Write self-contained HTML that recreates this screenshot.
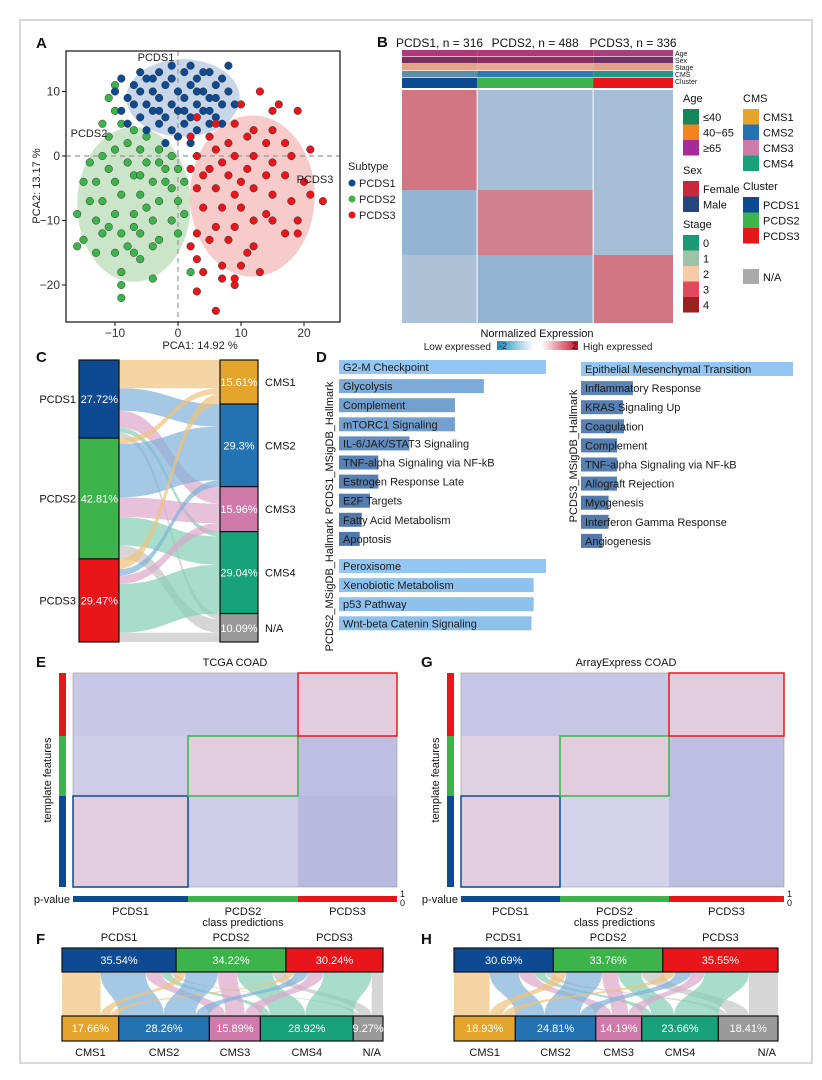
<!DOCTYPE html>
<html><head><meta charset="utf-8"><style>
html,body{margin:0;padding:0;background:#fff;}
svg{display:block;font-family:"Liberation Sans",sans-serif;}
</style></head><body>
<svg id="fig" width="822" height="1080" viewBox="0 0 822 1080" xmlns="http://www.w3.org/2000/svg">
<rect x="0" y="0" width="822" height="1080" fill="#fff"/>
<rect x="20" y="20" width="792" height="1043" fill="none" stroke="#d8d8d8" stroke-width="2"/>
<g font-weight="bold" font-size="15" fill="#111">
<text x="36" y="48">A</text>
<text x="377" y="47">B</text>
<text x="36" y="362">C</text>
<text x="316" y="362">D</text>
<text x="36" y="667">E</text>
<text x="36" y="944">F</text>
<text x="421" y="667">G</text>
<text x="421" y="944">H</text>
</g>
<g id="A"></g>
<g id="B"></g>
<g id="C"></g>
<g id="D"></g>
<g id="E"></g>
<g id="F"></g>
<g id="G"></g>
<g id="H"></g>
</svg>
<script>
// ===== DATA =====
const subtypes = ["PCDS1","PCDS2","PCDS3"];
const subtypeColors = ["#0d4a92","#3cb44b","#e8161b"];
const pcds1Points = [[-9,12],[-7,11],[-5,12],[-3,13],[-1,12],[1,13],[3,12],[5,13],[7,12],[8,14],[-8,9],[-6,10],[-4,10],[-2,11],[0,10],[2,11],[4,10],[6,11],[8,10],[9,8],[-9,7],[-7,8],[-5,8],[-3,9],[-1,8],[1,9],[3,8],[5,9],[7,8],[-6,6],[-4,7],[-2,6],[0,7],[2,6],[4,7],[6,6],[-5,4],[-3,5],[-1,4],[1,5],[3,4],[5,5],[-2,2],[0,3],[2,2],[-8,5],[7,5],[-4,12],[4,13],[-10,10],[6,9],[-1,14],[2,14],[-6,13],[3,10],[-3,7],[1,7],[5,7]];
const pcds2Points = [[-10,11],[-11,9],[-10,7],[-12,5],[-9,5],[-7,4],[-5,3],[-8,2],[-10,1],[-12,0],[-6,1],[-3,1],[-1,0],[-14,-1],[-11,-2],[-8,-1],[-5,-1],[-2,-2],[0,-2],[-15,-4],[-13,-4],[-10,-4],[-7,-3],[-4,-4],[-1,-5],[1,-4],[-16,-9],[-14,-7],[-12,-7],[-9,-6],[-6,-6],[-3,-7],[0,-7],[-13,-10],[-10,-9],[-7,-9],[-4,-10],[-1,-10],[1,-9],[-15,-13],[-12,-12],[-9,-12],[-6,-12],[-3,-13],[0,-12],[-16,-14],[-13,-15],[-10,-15],[-7,-15],[-4,-14],[-9,-18],[-6,-16],[-4,-19],[-9,-20],[-9,-22],[2,-18],[-11,-11],[-8,-14],[-5,-8],[-2,-4],[-7,-11],[-11,3],[-6,-3],[-3,-1]];
const pcds3Points = [[13,10],[10,8],[15,7],[16,8],[19,7],[3,6],[6,5],[9,5],[12,4],[15,4],[2,3],[5,3],[8,2],[11,3],[14,2],[17,2],[21,1],[3,0],[6,1],[9,0],[12,0],[15,-1],[18,0],[2,-2],[5,-2],[8,-3],[11,-2],[14,-3],[17,-3],[20,-4],[3,-5],[6,-5],[9,-6],[12,-5],[15,-6],[21,-6],[23,-7],[4,-8],[7,-8],[10,-8],[14,-9],[18,-7],[6,-11],[9,-11],[12,-10],[15,-10],[19,-10],[3,-12],[5,-13],[8,-13],[12,-14],[17,-12],[19,-12],[3,-16],[4,-18],[7,-17],[11,-15],[13,-18],[3,-21],[7,-19],[9,-19],[9,-20],[6,-24],[10,-17],[2,-14],[4,-3],[7,-1],[10,-4]];
const ellipseCenters = [[0.8,9],[-7,-7.5],[11.8,-6.2]];
const ellipseRadii = [[9,6],[9,12],[9.9,12.5]];
const pcaXTicks = [-10,0,10,20];
const pcaYTicks = [10,0,-10,-20];

const sampleCounts = [316,488,336];
const featureCounts = [100,65,68];
const exprBlocks = [[0.8,-0.4,-0.4],[-0.6,0.7,-0.4],[-0.3,-0.6,0.8]];

const cmsNames = ["CMS1","CMS2","CMS3","CMS4","N/A"];
const cmsColors = ["#e5a42b","#2372b2","#d07aab","#17a279","#999999"];
const cmsFlowColors = ["#f0c27a","#7fb2d8","#dba7c9","#84cfb5","#c4c4c4"];
const cPcdsPct = [27.72,42.81,29.47];
const cCmsPct = [15.61,29.3,15.96,29.04,10.09];
const cFlows = [[10,8,6,1.72,2],[2,19,7,10,4.81],[3.61,2.3,2.96,17.32,3.28]];

const dGroup1Terms = ["G2-M Checkpoint","Glycolysis","Complement","mTORC1 Signaling","IL-6/JAK/STAT3 Signaling","TNF-alpha Signaling via NF-kB","Estrogen Response Late","E2F Targets","Fatty Acid Metabolism","Apoptosis"];
const dGroup1Values = [1.0,0.70,0.56,0.56,0.34,0.19,0.19,0.15,0.11,0.10];
const dGroup2Terms = ["Peroxisome","Xenobiotic Metabolism","p53 Pathway","Wnt-beta Catenin Signaling"];
const dGroup2Values = [1.0,0.94,0.94,0.93];
const dGroup3Terms = ["Epithelial Mesenchymal Transition","Inflammatory Response","KRAS Signaling Up","Coagulation","Complement","TNF-alpha Signaling via NF-kB","Allograft Rejection","Myogenesis","Interferon Gamma Response","Angiogenesis"];
const dGroup3Values = [1.0,0.245,0.198,0.203,0.17,0.17,0.17,0.13,0.13,0.10];

const eBlocks = [[-0.3,-0.3,0.5],[-0.2,0.5,-0.5],[0.5,-0.2,-0.6]];
const gBlocks = [[-0.35,-0.3,0.5],[0.3,0.5,-0.5],[0.5,-0.1,-0.5]];
const eClassCounts = [115,110,99];
const eFeatureCounts = [63,60,91];
const gClassCounts = [99,109,115];

const fPcdsPct = [35.54,34.22,30.24];
const fCmsPct = [17.66,28.26,15.89,28.92,9.27];
const fFlows = [[12,14,5,3,1.54],[3,10,6,11,4.22],[2.66,4.26,4.89,14.92,3.51]];
const hPcdsPct = [30.69,33.76,35.55];
const hCmsPct = [18.93,24.81,14.19,23.66,18.41];
const hFlows = [[11,9,5,3,2.69],[4,11,5,7,6.76],[3.93,4.81,4.19,13.66,8.96]];

// ===== HELPERS =====
const NS="http://www.w3.org/2000/svg";
function mk(parent, tag, attrs, txt){
  const el=document.createElementNS(NS,tag);
  for(const k in attrs) el.setAttribute(k,attrs[k]);
  if(txt!==undefined) el.textContent=txt;
  parent.appendChild(el); return el;
}
function hex(c){return [parseInt(c.slice(1,3),16),parseInt(c.slice(3,5),16),parseInt(c.slice(5,7),16)];}
function mix(a,b,t){const A=hex(a),B=hex(b);return "rgb("+A.map((v,i)=>Math.round(v+(B[i]-v)*t)).join(",")+")";}
function diverge(v,neg,mid,pos){return v>=0?mix(mid,pos,Math.min(1,v)):mix(mid,neg,Math.min(1,-v));}
function $(id){return document.getElementById(id);}

// ===== PANEL A =====
(function(){
  const g=$("A");
  const X=v=>178+v*6.3, Y=v=>156-v*6.45;
  const ellFill=["#b4c8e2","#b9dcb6","#f5b9b9"];
  ellipseCenters.forEach((c,i)=>{
    const e=mk(g,"ellipse",{cx:X(c[0]),cy:Y(c[1]),rx:ellipseRadii[i][0]*6.3,ry:ellipseRadii[i][1]*6.45,fill:ellFill[i],opacity:0.75});
    
    
  });
  const l1=mk(g,"line",{x1:66,x2:340,y1:Y(0),y2:Y(0),stroke:"#999","stroke-dasharray":"5,4","stroke-width":1.2});
  
  
  const l2=mk(g,"line",{x1:X(0),x2:X(0),y1:51,y2:322,stroke:"#999","stroke-dasharray":"5,4","stroke-width":1.2});
  
  
  [pcds2Points,pcds1Points,pcds3Points].forEach((pts,k)=>{
    const idx=[1,0,2][k];
    pts.forEach(p=>{
      const c=mk(g,"circle",{cx:X(p[0]),cy:Y(p[1]),r:3.8,fill:subtypeColors[idx],stroke:"#333","stroke-width":0.5});
      
      
    });
  });
  const box=mk(g,"rect",{x:66,y:51,width:274,height:271,fill:"none",stroke:"#111","stroke-width":1.2});
  
  
  pcaXTicks.forEach(t=>{
    const tk=mk(g,"line",{x1:X(t),x2:X(t),y1:322,y2:326,stroke:"#111"});
    
    
    const tl=mk(g,"text",{x:X(t),y:337,"font-size":12,"text-anchor":"middle",fill:"#333"},String(t).replace("-","−"));
    
    
  });
  pcaYTicks.forEach(t=>{
    const tk=mk(g,"line",{x1:62,x2:66,y1:Y(t),y2:Y(t),stroke:"#111"});
    
    
    const tl=mk(g,"text",{x:60,y:Y(t)+4,"font-size":12,"text-anchor":"end",fill:"#333"},String(t).replace("-","−"));
    
    
  });
  const xt=mk(g,"text",{x:200,y:349,"font-size":11,"text-anchor":"middle",fill:"#222"},"PCA1: 14.92 %");
  
  
  const yt=mk(g,"text",{x:0,y:0,"font-size":11,"text-anchor":"middle",fill:"#222",transform:"translate(40,186) rotate(-90)"},"PCA2: 13.17 %");
  
  
  [["PCDS1",156,61],["PCDS2",89,137],["PCDS3",315,183]].forEach(a=>{
    const t=mk(g,"text",{x:a[1],y:a[2],"font-size":11,"text-anchor":"middle",fill:"#222"},a[0]);
    
    
  });
  const lt=mk(g,"text",{x:348,y:170,"font-size":11,fill:"#222"},"Subtype");
  
  
  subtypes.forEach((s,i)=>{
    const c=mk(g,"circle",{cx:352,cy:183+i*16,r:3.5,fill:subtypeColors[i]});
    
    
    const t=mk(g,"text",{x:359,y:187+i*16,"font-size":11,fill:"#222"},s);
    
    
  });
})();

// ===== PANEL B =====
(function(){
  const g=$("B");
  const x0=402,x1=673,y0=90,y1=323;
  const tot=sampleCounts.reduce((a,b)=>a+b,0), ftot=featureCounts.reduce((a,b)=>a+b,0);
  const colX=[x0]; sampleCounts.forEach(n=>colX.push(colX[colX.length-1]+n/tot*(x1-x0)));
  const rowY=[y0]; featureCounts.forEach(n=>rowY.push(rowY[rowY.length-1]+n/ftot*(y1-y0)));
  exprBlocks.forEach((row,r)=>row.forEach((v,c)=>{
    const rc=mk(g,"rect",{x:colX[c],y:rowY[r],width:colX[c+1]-colX[c],height:rowY[r+1]-rowY[r],fill:diverge(v,"#6fa4cc","#c9cfdb","#d5606e")});
    
    
  }));
  [1,2].forEach(i=>{
    const l=mk(g,"line",{x1:colX[i],x2:colX[i],y1:50,y2:y1,stroke:"#fff","stroke-width":1});
    
    
  });
  const annRows=["Age","Sex","Stage","CMS","Cluster"];
  const annColors=[["#b0387a","#b0387a","#a8407c"],["#7a2f5e","#8a3060","#6e3366"],["#e4a48a","#e6a890","#e3a088"],["#5f8fa8","#2f7ab4","#1f9a86"],subtypeColors];
  const annY=[50,57,64,71,78,89];
  annRows.forEach((n,r)=>{
    for(let c=0;c<3;c++){
      const rc=mk(g,"rect",{x:colX[c],y:annY[r],width:colX[c+1]-colX[c],height:annY[r+1]-annY[r]-(r<4?0.6:1),fill:annColors[r][c]});
      
      
    }
    const t=mk(g,"text",{x:675,y:annY[r]+6,"font-size":7,fill:"#222"},n);
    
    
  });
  subtypes.forEach((s,i)=>{
    const t=mk(g,"text",{x:(colX[i]+colX[i+1])/2,y:47,"font-size":12,"text-anchor":"middle",fill:"#111"},s+", n = "+sampleCounts[i]);
    
    
  });
  const legends=[
    ["Age",683,102,["≤40","40−65","≥65"],["#14875a","#f58220","#a52a9a"]],
    ["Sex",683,174,["Female","Male"],["#c8283c","#26467e"]],
    ["Stage",683,228,["0","1","2","3","4"],["#1a9a74","#9dc3a8","#f8cba8","#e04a5a","#9a2020"]],
    ["CMS",743,102,cmsNames.slice(0,4),cmsColors.slice(0,4)],
    ["Cluster",743,190,subtypes,subtypeColors]
  ];
  legends.forEach(L=>{
    const t=mk(g,"text",{x:L[1],y:L[2],"font-size":11,fill:"#111"},L[0]);
    
    
    L[3].forEach((lab,i)=>{
      const r=mk(g,"rect",{x:L[1],y:L[2]+7+i*15.5,width:16,height:15.5,fill:L[4][i]});
      
      
      const tt=mk(g,"text",{x:L[1]+20,y:L[2]+19+i*15.5,"font-size":11,fill:"#111"},lab);
      
      
    });
  });
  const na=mk(g,"rect",{x:743,y:269,width:16,height:15,fill:"#aaa"});
  
  
  const nat=mk(g,"text",{x:763,y:281,"font-size":11,fill:"#111"},"N/A");
  
  
  const ne=mk(g,"text",{x:537,y:337,"font-size":11,"text-anchor":"middle",fill:"#111"},"Normalized Expression");
  
  
  const defs=mk(g,"defs",{});
  const lg=mk(defs,"linearGradient",{id:"cb"});
  mk(lg,"stop",{offset:"0",  "stop-color":"#1a8ac4"});
  mk(lg,"stop",{offset:"0.45","stop-color":"#ffffff"});
  mk(lg,"stop",{offset:"0.55","stop-color":"#ffffff"});
  mk(lg,"stop",{offset:"1","stop-color":"#c8102e"});
  const cb=mk(g,"rect",{x:497,y:341,width:81,height:9,fill:"url(#cb)"});
  
  
  const lo=mk(g,"text",{x:491,y:350,"font-size":10,"text-anchor":"end",fill:"#222"},"Low expressed");
  
  
  const hi=mk(g,"text",{x:583,y:350,"font-size":10,fill:"#222"},"High expressed");
  
  
  const m2=mk(g,"text",{x:499,y:349,"font-size":9,fill:"#133"},"-2");
  
  
  const p2=mk(g,"text",{x:572,y:349,"font-size":9,fill:"#400"},"2");
  
  
})();

// ===== PANEL C (horizontal alluvial) =====
(function(){
  const g=$("C");
  const top=360,h=282,lx0=79,lx1=119,rx0=220,rx1=258;
  const S=v=>v/100*h;
  const leftY=[top]; cPcdsPct.forEach(v=>leftY.push(leftY[leftY.length-1]+S(v)));
  const rightY=[top]; cCmsPct.forEach(v=>rightY.push(rightY[rightY.length-1]+S(v)));
  const lOff=leftY.slice(0,3), rOff=rightY.slice(0,5);
  const segs=[];
  cFlows.forEach((row,i)=>row.forEach((v,j)=>{segs.push({i,j,v,ly:0,ry:0});}));
  segs.forEach(s=>{s.ly=lOff[s.i];lOff[s.i]+=S(s.v);});
  for(let j=0;j<5;j++) segs.filter(s=>s.j===j).forEach(s=>{s.ry=rOff[j];rOff[j]+=S(s.v);});
  segs.forEach(s=>{
    const w=S(s.v),xm=(lx1+rx0)/2;
    const d=`M${lx1},${s.ly} C${xm},${s.ly} ${xm},${s.ry} ${rx0},${s.ry} L${rx0},${s.ry+w} C${xm},${s.ry+w} ${xm},${s.ly+w} ${lx1},${s.ly+w} Z`;
    const p=mk(g,"path",{d,fill:cmsFlowColors[s.j],opacity:0.7});
    
    
  });
  cPcdsPct.forEach((v,i)=>{
    const r=mk(g,"rect",{x:lx0,y:leftY[i],width:lx1-lx0,height:S(v),fill:subtypeColors[i],stroke:"#111","stroke-width":1.2});
    
    
    const t=mk(g,"text",{x:lx1-1,y:leftY[i]+S(v)/2+4,"font-size":11,"text-anchor":"end",fill:"#fff"},v+"%");
    
    
    const t2=mk(g,"text",{x:lx0-3,y:leftY[i]+S(v)/2+4,"font-size":11,"text-anchor":"end",fill:"#111"},subtypes[i]);
    
    
  });
  cCmsPct.forEach((v,j)=>{
    const r=mk(g,"rect",{x:rx0,y:rightY[j],width:rx1-rx0,height:S(v),fill:cmsColors[j],stroke:"#111","stroke-width":1.2});
    
    
    const t=mk(g,"text",{x:(rx0+rx1)/2,y:rightY[j]+S(v)/2+4,"font-size":11,"text-anchor":"middle",fill:"#fff"},v+"%");
    
    
    const t2=mk(g,"text",{x:rx1+7,y:rightY[j]+S(v)/2+4,"font-size":11,fill:"#111"},cmsNames[j]);
    
    
  });
})();

// ===== PANEL D =====
(function(){
  const g=$("D");
  function group(terms,vals,x0,y0,maxW,name){
    terms.forEach((t,i)=>{
      const y=y0+i*19.1;
      const r=mk(g,"rect",{x:x0,y:y,width:vals[i]*maxW,height:14,fill:mix("#4a6fa3","#93c6f2",vals[i])});
      
      
      const tx=mk(g,"text",{x:x0+4,y:y+11,"font-size":11,fill:"#1a1a1a"},t);
      
      
    });
  }
  group(dGroup1Terms,dGroup1Values,339,360,207,"pcds1");
  group(dGroup2Terms,dGroup2Values,339,559,207,"pcds2");
  group(dGroup3Terms,dGroup3Values,581,362,212,"pcds3");
  [["PCDS1_MSigDB_Hallmark",333,448],["PCDS2_MSigDB_Hallmark",333,585],["PCDS3_MSigDB_Hallmark",577,456]].forEach(a=>{
    const t=mk(g,"text",{x:0,y:0,"font-size":11,"text-anchor":"middle",fill:"#111",transform:`translate(${a[1]},${a[2]}) rotate(-90)`},a[0]);
    
    
  });
})();

// ===== PANELS E & G =====
function templateHeatmap(id,title,x0,x1,classCounts,blocks,titleX){
  const g=$(id);
  const y0=673,y1=887;
  const ct=classCounts.reduce((a,b)=>a+b,0), ft=eFeatureCounts.reduce((a,b)=>a+b,0);
  const cx=[x0]; classCounts.forEach(n=>cx.push(cx[cx.length-1]+n/ct*(x1-x0)));
  const ry=[y0]; eFeatureCounts.forEach(n=>ry.push(ry[ry.length-1]+n/ft*(y1-y0)));
  blocks.forEach((row,r)=>row.forEach((v,c)=>{
    const rc=mk(g,"rect",{x:cx[c],y:ry[r],width:cx[c+1]-cx[c],height:ry[r+1]-ry[r],fill:diverge(v,"#a3a5d8","#d9d6ec","#ecc2cc")});
    
    
  }));
  const fr=mk(g,"rect",{x:x0,y:y0,width:x1-x0,height:y1-y0,fill:"none",stroke:"#999","stroke-width":0.6});
  
  
  for(let k=0;k<3;k++){
    const r=2-k;
    const b=mk(g,"rect",{x:cx[k],y:ry[r],width:cx[k+1]-cx[k],height:ry[r+1]-ry[r],fill:"none",stroke:subtypeColors[k],"stroke-width":1.5});
    
    
  }
  for(let r=0;r<3;r++){
    const s=mk(g,"rect",{x:x0-14,y:ry[r],width:7,height:ry[r+1]-ry[r],fill:subtypeColors[2-r]});
    
    
  }
  for(let c=0;c<3;c++){
    const p=mk(g,"rect",{x:cx[c],y:896,width:cx[c+1]-cx[c],height:6,fill:subtypeColors[c]});
    
    
    const t=mk(g,"text",{x:(cx[c]+cx[c+1])/2,y:915,"font-size":11,"text-anchor":"middle",fill:"#111"},subtypes[c]);
    
    
  }
  const pv=mk(g,"text",{x:x0-3,y:903,"font-size":11,"text-anchor":"end",fill:"#111"},"p-value");
  
  
  const one=mk(g,"text",{x:x1+3,y:897,"font-size":9,fill:"#111"},"1");
  
  
  const zero=mk(g,"text",{x:x1+3,y:906,"font-size":9,fill:"#111"},"0");
  
  
  const cp=mk(g,"text",{x:(cx[1]+cx[2])/2,y:926,"font-size":11,"text-anchor":"middle",fill:"#111"},"class predictions");
  
  
  const tt=mk(g,"text",{x:titleX,y:666,"font-size":11,"text-anchor":"middle",fill:"#111"},title);
  
  
  const yl=mk(g,"text",{x:0,y:0,"font-size":11,"text-anchor":"middle",fill:"#111",transform:`translate(${x0-22},780) rotate(-90)`},"template features");
  
  
}
templateHeatmap("E","TCGA COAD",73,397,eClassCounts,eBlocks,235);
templateHeatmap("G","ArrayExpress COAD",461,784,gClassCounts,gBlocks,626);

// ===== PANELS F & H (vertical alluvial) =====
function vAlluvial(id,x0,x1,pcdsPct,cmsPct,flows){
  const g=$(id);
  const ty0=948,ty1=972,by0=1016,by1=1041,W=x1-x0;
  const S=v=>v/100*W;
  const tx=[x0]; pcdsPct.forEach(v=>tx.push(tx[tx.length-1]+S(v)));
  const bx=[x0]; cmsPct.forEach(v=>bx.push(bx[bx.length-1]+S(v)));
  const tOff=tx.slice(0,3), bOff=bx.slice(0,5);
  const segs=[];
  flows.forEach((row,i)=>row.forEach((v,j)=>segs.push({i,j,v})));
  segs.forEach(s=>{s.tx=tOff[s.i];tOff[s.i]+=S(s.v);});
  for(let j=0;j<5;j++) segs.filter(s=>s.j===j).forEach(s=>{s.bx=bOff[j];bOff[j]+=S(s.v);});
  const ym=(ty1+by0)/2;
  segs.forEach(s=>{
    const w=S(s.v);
    const d=`M${s.tx},${ty1} C${s.tx},${ym} ${s.bx},${ym} ${s.bx},${by0} L${s.bx+w},${by0} C${s.bx+w},${ym} ${s.tx+w},${ym} ${s.tx+w},${ty1} Z`;
    const p=mk(g,"path",{d,fill:cmsFlowColors[s.j],opacity:0.7});
    
    
  });
  pcdsPct.forEach((v,i)=>{
    const r=mk(g,"rect",{x:tx[i],y:ty0,width:S(v),height:ty1-ty0,fill:subtypeColors[i],stroke:"#111","stroke-width":1.2});
    
    
    const t=mk(g,"text",{x:tx[i]+S(v)/2,y:964,"font-size":11,"text-anchor":"middle",fill:"#fff"},v.toFixed(2)+"%");
    
    
    const t2=mk(g,"text",{x:tx[i]+S(v)/2,y:941,"font-size":11,"text-anchor":"middle",fill:"#111"},subtypes[i]);
    
    
  });
  cmsPct.forEach((v,j)=>{
    const r=mk(g,"rect",{x:bx[j],y:by0,width:S(v),height:by1-by0,fill:cmsColors[j],stroke:"#111","stroke-width":1.2});
    
    
    const t=mk(g,"text",{x:bx[j]+S(v)/2,y:1032,"font-size":11,"text-anchor":"middle",fill:"#fff"},v.toFixed(2)+"%");
    
    
    const t2=mk(g,"text",{x:j===4?bx[j]+S(v)-2:bx[j]+S(v)/2,y:1056,"font-size":11,"text-anchor":j===4?"end":"middle",fill:"#111"},cmsNames[j]);
    
    
  });
}
vAlluvial("F",62,383,fPcdsPct,fCmsPct,fFlows);
vAlluvial("H",454,778,hPcdsPct,hCmsPct,hFlows);
</script>
</body></html>
